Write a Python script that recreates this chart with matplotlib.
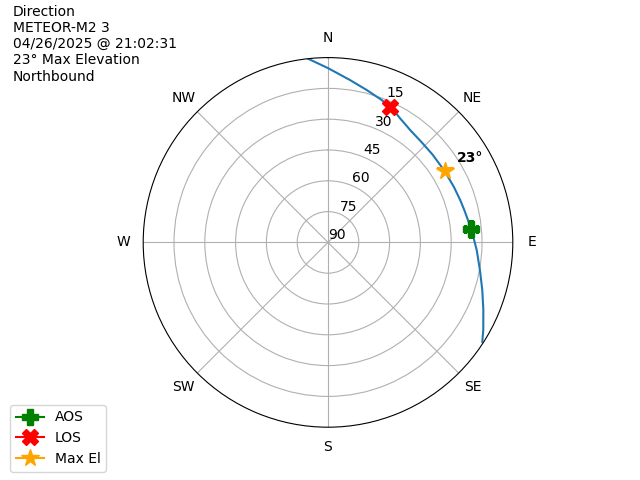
import numpy as np
import matplotlib
matplotlib.use("Agg")
import matplotlib.pyplot as plt

# pass track (azimuth deg, elevation deg)
track_az = [353.8, 0.1, 7.7, 14.2, 20.7, 24.6, 27.1, 30.1, 34.2, 36.1, 42.9, 49.9, 58.6,
            66.3, 72.2, 76.5, 85.1, 92.9, 100.3, 107.1, 113.5, 119.4, 122.8]
track_el = [0.0, 5.2, 10.2, 13.4, 15.9, 17.5, 18.5, 20.1, 21.6, 22.2, 23.2, 23.5, 23.4,
            23.0, 22.4, 21.8, 19.8, 17.5, 14.8, 11.4, 7.5, 3.2, 0.6]

aos_az, aos_el = 84.6, 20.1
los_az, los_el = 24.6, 17.5
max_az, max_el = 58.6, 23.2

sat_name = "METEOR-M2 3"
pass_time = "04/26/2025 @ 21:02:31"
max_label = "23°"
direction = "Northbound"

r_ticks = [0, 15, 30, 45, 60, 75]
r_labels = ["90", "75", "60", "45", "30", "15"]
compass = ["N", "NE", "E", "SE", "S", "SW", "W", "NW"]

fig = plt.figure(figsize=(6.4, 4.8), dpi=100)
ax = fig.add_subplot(111, projection="polar")
ax.set_theta_zero_location("N")
ax.set_theta_direction(-1)

ax.plot(np.radians(track_az), 90 - np.array(track_el))
ax.plot(np.radians(aos_az), 90 - aos_el, marker="P", color="green", markersize=12, label="AOS")
ax.plot(np.radians(los_az), 90 - los_el, marker="X", color="red", markersize=12, label="LOS")
ax.plot(np.radians(max_az), 90 - max_el, marker="*", color="orange", markersize=13, label="Max El")
ax.text(np.radians(59.3), 80.4, max_label, ha="center", va="center", fontweight="bold")

ax.set_rlim(0, 90)
ax.set_rticks(r_ticks)
ax.set_yticklabels(r_labels)
ax.set_thetagrids(np.arange(0, 360, 45), compass)

fig.text(0.02, 0.99, "Direction\n" + sat_name + "\n" + pass_time + "\n" + max_label + " Max Elevation\n" + direction,
         ha="left", va="top")
fig.legend(loc="lower left", bbox_to_anchor=(0.016, 0.017), borderaxespad=0)

fig.savefig("out.png")
